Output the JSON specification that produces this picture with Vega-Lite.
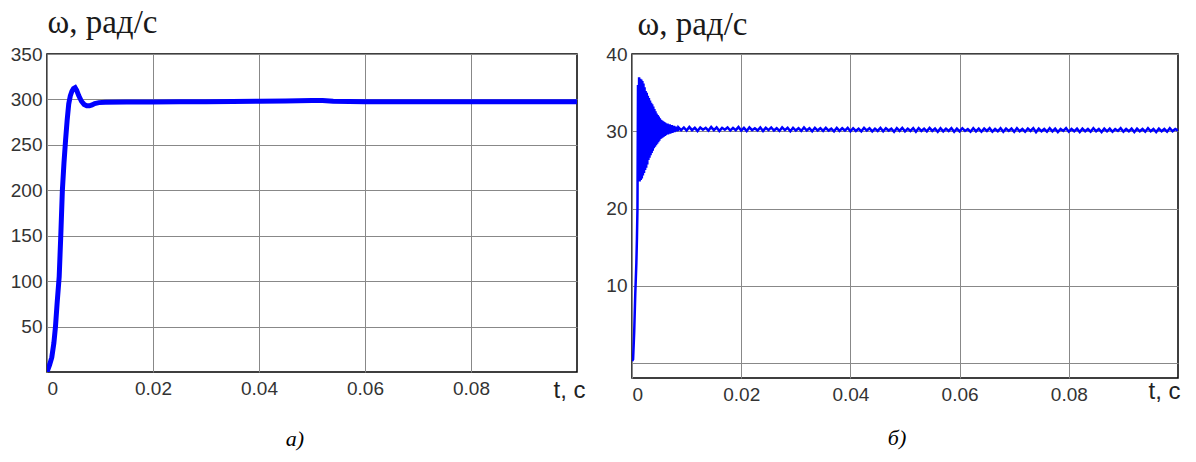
{
"$schema": "https://vega.github.io/schema/vega-lite/v6.json",
"background": "white",
"padding": {"left": 9, "top": 5, "right": 4, "bottom": 4},
"bounds": "flush",
"spacing": 55,
"config": {
  "view": {"stroke": "#000", "strokeWidth": 1.5},
  "axis": {"labelFont": "Liberation Sans", "labelFontSize": 19, "labelColor": "#333", "grid": true, "gridColor": "#888", "gridWidth": 1, "domain": false, "ticks": false, "titleFontWeight": "normal"}
},
"datasets": {
  "a": [
    {"t":0,"w":0},{"t":0.0005,"w":8},{"t":0.0009,"w":16},{"t":0.0013,"w":32},{"t":0.0016,"w":50},{"t":0.0019,"w":75},{"t":0.0023,"w":105},{"t":0.0026,"w":150},{"t":0.0029,"w":200},{"t":0.0032,"w":230},{"t":0.0035,"w":255},{"t":0.0038,"w":277},{"t":0.0041,"w":295},{"t":0.0044,"w":304},{"t":0.0047,"w":309},{"t":0.005,"w":312},{"t":0.0053,"w":313},{"t":0.0056,"w":310},{"t":0.006,"w":304},{"t":0.0065,"w":298},{"t":0.007,"w":294.5},{"t":0.0075,"w":293},{"t":0.008,"w":293},{"t":0.0085,"w":294},{"t":0.009,"w":295.5},{"t":0.0098,"w":296.5},{"t":0.011,"w":297},{"t":0.015,"w":297.2},{"t":0.02,"w":297.3},{"t":0.025,"w":297.4},{"t":0.03,"w":297.5},{"t":0.035,"w":297.7},{"t":0.04,"w":298},{"t":0.045,"w":298.3},{"t":0.05,"w":298.8},{"t":0.052,"w":298.9},{"t":0.054,"w":298},{"t":0.06,"w":297.5},{"t":0.07,"w":297.5},{"t":0.08,"w":297.4},{"t":0.09,"w":297.4},{"t":0.1,"w":297.4}
  ],
  "b": [
    {"t":0,"w":0.3},{"t":0.0002,"w":0.5},{"t":0.0004,"w":4},{"t":0.0006,"w":9},{"t":0.0008,"w":13},{"t":0.0009,"w":16},
    {"t":0.001,"w":20},{"t":0.0011,"w":36},{"t":0.0012,"w":23.5},{"t":0.0013,"w":37},{"t":0.0014,"w":23.5},{"t":0.0015,"w":36.8},{"t":0.0016,"w":23.7},{"t":0.0017,"w":36.7},{"t":0.0018,"w":23.9},{"t":0.0019,"w":36.5},
    {"t":0.002,"w":24.3},{"t":0.0021,"w":36.2},{"t":0.0022,"w":24.6},{"t":0.0023,"w":35.7},{"t":0.0024,"w":25},{"t":0.0025,"w":35.2},{"t":0.0026,"w":25.3},{"t":0.0027,"w":35},{"t":0.0028,"w":25.7},{"t":0.0029,"w":34.6},
    {"t":0.003,"w":26.3},{"t":0.0031,"w":34.3},{"t":0.0032,"w":26.6},{"t":0.0033,"w":34},{"t":0.0034,"w":26.9},{"t":0.0035,"w":33.7},{"t":0.0036,"w":27.2},{"t":0.0037,"w":33.5},{"t":0.0038,"w":27.5},{"t":0.0039,"w":33.2},
    {"t":0.004,"w":27.8},{"t":0.0041,"w":32.9},{"t":0.0042,"w":28},{"t":0.0043,"w":32.6},{"t":0.0044,"w":28.2},{"t":0.0045,"w":32.3},{"t":0.0046,"w":28.4},{"t":0.0047,"w":32.1},{"t":0.0048,"w":28.6},{"t":0.0049,"w":31.9},
    {"t":0.005,"w":28.8},{"t":0.0051,"w":31.7},{"t":0.0052,"w":29},{"t":0.0053,"w":31.5},{"t":0.0054,"w":29.1},{"t":0.0055,"w":31.4},{"t":0.0056,"w":29.2},{"t":0.0057,"w":31.3},{"t":0.0058,"w":29.3},{"t":0.0059,"w":31.2},
    {"t":0.006,"w":29.4},{"t":0.0061,"w":31.1},{"t":0.0062,"w":29.5},{"t":0.0063,"w":31},{"t":0.0064,"w":29.6},{"t":0.0065,"w":31},{"t":0.0066,"w":29.6},{"t":0.0067,"w":30.9},{"t":0.0068,"w":29.7},{"t":0.0069,"w":30.9},
    {"t":0.007,"w":29.7},{"t":0.0071,"w":30.8},{"t":0.0072,"w":29.8},{"t":0.0073,"w":30.8},{"t":0.0074,"w":29.8},{"t":0.0075,"w":30.7},{"t":0.0076,"w":29.9},{"t":0.0077,"w":30.7},{"t":0.0078,"w":29.9},{"t":0.0079,"w":30.6},
    {"t":0.008,"w":30},{"t":0.0081,"w":30.6},{"t":0.0082,"w":30},{"t":0.0083,"w":30.5},{"t":0.0084,"w":30.05},{"t":0.0085,"w":30.5},
    {"t":0.009,"w":30.15},{"t":0.0095,"w":30.5},{"t":0.01,"w":30.1},{"t":0.0105,"w":30.55},{"t":0.011,"w":30.15},{"t":0.0115,"w":30.45},{"t":0.012,"w":30.05},{"t":0.0125,"w":30.5},{"t":0.013,"w":30.2},{"t":0.0135,"w":30.45},
    {"t":0.014,"w":30.1},{"t":0.0145,"w":30.55},{"t":0.015,"w":30.15},{"t":0.0155,"w":30.5},{"t":0.016,"w":30.05},{"t":0.0165,"w":30.45},{"t":0.017,"w":30.2},{"t":0.0175,"w":30.5},{"t":0.018,"w":30.1},{"t":0.0185,"w":30.45},
    {"t":0.019,"w":30.15},{"t":0.0195,"w":30.55},{"t":0.02,"w":30.1},{"t":0.0205,"w":30.45},{"t":0.021,"w":30.05},{"t":0.0215,"w":30.5},{"t":0.022,"w":30.15},{"t":0.0225,"w":30.4},{"t":0.023,"w":30.1},{"t":0.0235,"w":30.5},
    {"t":0.024,"w":30.05},{"t":0.0245,"w":30.45},{"t":0.025,"w":30.15},{"t":0.0255,"w":30.5},{"t":0.026,"w":30.1},{"t":0.0265,"w":30.4},{"t":0.027,"w":30.05},{"t":0.0275,"w":30.5},{"t":0.028,"w":30.15},{"t":0.0285,"w":30.45},
    {"t":0.029,"w":30},{"t":0.0295,"w":30.45},{"t":0.03,"w":30.1},{"t":0.0305,"w":30.4},{"t":0.031,"w":30.05},{"t":0.0315,"w":30.5},{"t":0.032,"w":30.1},{"t":0.0325,"w":30.4},{"t":0.033,"w":30},{"t":0.0335,"w":30.45},
    {"t":0.034,"w":30.1},{"t":0.0345,"w":30.4},{"t":0.035,"w":30.05},{"t":0.0355,"w":30.45},{"t":0.036,"w":30.1},{"t":0.0365,"w":30.35},{"t":0.037,"w":30},{"t":0.0375,"w":30.45},{"t":0.038,"w":30.05},{"t":0.0385,"w":30.4},
    {"t":0.039,"w":30.1},{"t":0.0395,"w":30.45},{"t":0.04,"w":30},{"t":0.0405,"w":30.4},{"t":0.041,"w":30.05},{"t":0.0415,"w":30.35},{"t":0.042,"w":30},{"t":0.0425,"w":30.45},{"t":0.043,"w":30.1},{"t":0.0435,"w":30.4},
    {"t":0.044,"w":30},{"t":0.0445,"w":30.35},{"t":0.045,"w":30.05},{"t":0.0455,"w":30.45},{"t":0.046,"w":30},{"t":0.0465,"w":30.4},{"t":0.047,"w":30.1},{"t":0.0475,"w":30.35},{"t":0.048,"w":29.95},{"t":0.0485,"w":30.4},
    {"t":0.049,"w":30.05},{"t":0.0495,"w":30.45},{"t":0.05,"w":30},{"t":0.0505,"w":30.35},{"t":0.051,"w":30.05},{"t":0.0515,"w":30.4},{"t":0.052,"w":29.95},{"t":0.0525,"w":30.4},{"t":0.053,"w":30.05},{"t":0.0535,"w":30.35},
    {"t":0.054,"w":30},{"t":0.0545,"w":30.45},{"t":0.055,"w":30.05},{"t":0.0555,"w":30.35},{"t":0.056,"w":29.95},{"t":0.0565,"w":30.4},{"t":0.057,"w":30},{"t":0.0575,"w":30.35},{"t":0.058,"w":30.05},{"t":0.0585,"w":30.4},
    {"t":0.059,"w":29.95},{"t":0.0595,"w":30.35},{"t":0.06,"w":30},{"t":0.0605,"w":30.4},{"t":0.061,"w":30.05},{"t":0.0615,"w":30.3},{"t":0.062,"w":29.95},{"t":0.0625,"w":30.4},{"t":0.063,"w":30},{"t":0.0635,"w":30.35},
    {"t":0.064,"w":29.95},{"t":0.0645,"w":30.35},{"t":0.065,"w":30.05},{"t":0.0655,"w":30.4},{"t":0.066,"w":29.95},{"t":0.0665,"w":30.3},{"t":0.067,"w":30},{"t":0.0675,"w":30.4},{"t":0.068,"w":29.95},{"t":0.0685,"w":30.35},
    {"t":0.069,"w":30.05},{"t":0.0695,"w":30.35},{"t":0.07,"w":29.95},{"t":0.0705,"w":30.4},{"t":0.071,"w":30},{"t":0.0715,"w":30.3},{"t":0.072,"w":29.95},{"t":0.0725,"w":30.35},{"t":0.073,"w":30.05},{"t":0.0735,"w":30.4},
    {"t":0.074,"w":29.9},{"t":0.0745,"w":30.35},{"t":0.075,"w":30},{"t":0.0755,"w":30.3},{"t":0.076,"w":29.95},{"t":0.0765,"w":30.4},{"t":0.077,"w":30},{"t":0.0775,"w":30.35},{"t":0.078,"w":29.9},{"t":0.0785,"w":30.3},
    {"t":0.079,"w":30.05},{"t":0.0795,"w":30.4},{"t":0.08,"w":29.95},{"t":0.0805,"w":30.3},{"t":0.081,"w":30},{"t":0.0815,"w":30.35},{"t":0.082,"w":29.9},{"t":0.0825,"w":30.35},{"t":0.083,"w":30},{"t":0.0835,"w":30.3},
    {"t":0.084,"w":29.95},{"t":0.0845,"w":30.4},{"t":0.085,"w":30},{"t":0.0855,"w":30.3},{"t":0.086,"w":29.9},{"t":0.0865,"w":30.35},{"t":0.087,"w":30},{"t":0.0875,"w":30.35},{"t":0.088,"w":29.95},{"t":0.0885,"w":30.3},
    {"t":0.089,"w":30.05},{"t":0.0895,"w":30.4},{"t":0.09,"w":29.95},{"t":0.0905,"w":30.3},{"t":0.091,"w":30},{"t":0.0915,"w":30.35},{"t":0.092,"w":29.9},{"t":0.0925,"w":30.35},{"t":0.093,"w":30},{"t":0.0935,"w":30.3},
    {"t":0.094,"w":29.95},{"t":0.0945,"w":30.4},{"t":0.095,"w":30},{"t":0.0955,"w":30.3},{"t":0.096,"w":29.9},{"t":0.0965,"w":30.35},{"t":0.097,"w":30},{"t":0.0975,"w":30.3},{"t":0.098,"w":29.95},{"t":0.0985,"w":30.4},
    {"t":0.099,"w":30},{"t":0.0995,"w":30.3},{"t":0.1,"w":30.1}
  ]
},
"hconcat": [
  {
    "width": 530, "height": 318,
    "data": {"name": "a"},
    "title": {"text": "а)", "orient": "bottom", "anchor": "middle", "font": "Liberation Serif", "fontStyle": "italic", "fontSize": 22, "fontWeight": "normal", "color": "#000", "offset": 27, "dx": -17},
    "mark": {"type": "line", "color": "#0000ff", "strokeWidth": 5, "clip": true},
    "encoding": {
      "x": {"field": "t", "type": "quantitative", "scale": {"domain": [0, 0.1], "nice": false, "zero": false},
        "axis": {"values": [0, 0.02, 0.04, 0.06, 0.08], "format": "~g", "labelPadding": 7, "title": "t, c", "titleFont": "Liberation Sans", "titleFontSize": 24, "titleColor": "#222", "titleX": 506, "titleY": 25, "titleAlign": "left", "titleBaseline": "alphabetic", "titleAnchor": null}},
      "y": {"field": "w", "type": "quantitative", "scale": {"domain": [0, 350], "nice": false},
        "axis": {"values": [50, 100, 150, 200, 250, 300, 350], "labelPadding": 5, "title": "ω, рад/с", "titleFont": "Liberation Serif", "titleFontSize": 33, "titleColor": "#1a1a1a", "titleAngle": 0, "titleAlign": "left", "titleBaseline": "alphabetic", "titleX": 0, "titleY": -22}}
    }
  },
  {
    "width": 546, "height": 324,
    "data": {"name": "b"},
    "title": {"text": "б)", "orient": "bottom", "anchor": "middle", "font": "Liberation Serif", "fontStyle": "italic", "fontSize": 22, "fontWeight": "normal", "color": "#000", "offset": 24, "dx": -8},
    "mark": {"type": "line", "color": "#0000ff", "strokeWidth": 2.5, "clip": true},
    "encoding": {
      "x": {"field": "t", "type": "quantitative", "scale": {"domain": [0, 0.1], "nice": false, "zero": false},
        "axis": {"values": [0, 0.02, 0.04, 0.06, 0.08], "format": "~g", "labelPadding": 7, "title": "t, c", "titleFont": "Liberation Sans", "titleFontSize": 24, "titleColor": "#222", "titleX": 516, "titleY": 20, "titleAlign": "left", "titleBaseline": "alphabetic", "titleAnchor": null}},
      "y": {"field": "w", "type": "quantitative", "scale": {"domain": [-1.9, 40], "nice": false, "zero": false},
        "axis": {"values": [0, 10, 20, 30, 40], "labelExpr": "datum.value == 0 ? '' : datum.label", "labelPadding": 5, "title": "ω, рад/с", "titleFont": "Liberation Serif", "titleFontSize": 33, "titleColor": "#1a1a1a", "titleAngle": 0, "titleAlign": "left", "titleBaseline": "alphabetic", "titleX": 5, "titleY": -20}}
    }
  }
]
}
